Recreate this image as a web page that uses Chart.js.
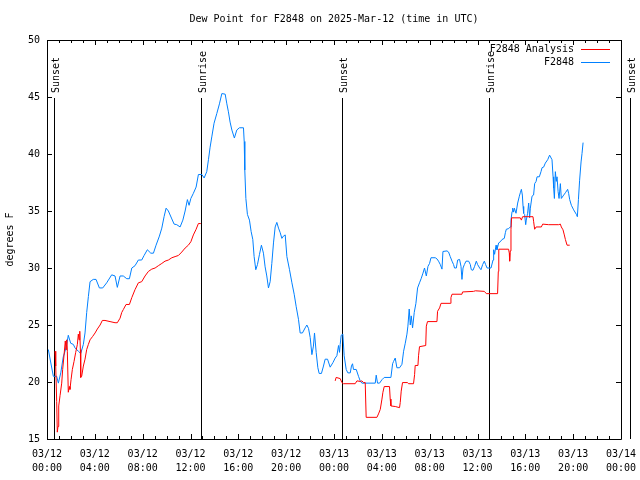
<!DOCTYPE html>
<html>
<head>
<meta charset="utf-8">
<title>Dew Point for F2848</title>
<script src="https://cdn.jsdelivr.net/npm/chart.js@4.4.1/dist/chart.umd.min.js"></script>
<style>
    html, body { margin: 0; padding: 0; background: #fff; }
    #wrap { width: 640px; height: 480px; }
</style>
</head>
<body>
<div id="wrap"><canvas id="dewChart" width="640" height="480"></canvas></div>
<script>
// hours since 03/12 00:00 UTC
const obsHours = [
    0.11, 0.53, 0.81, 0.95, 1.15, 1.36, 1.51, 1.65, 1.78, 1.98, 2.2, 2.34, 2.62, 2.82, 3.04, 3.18, 3.32, 3.46, 3.6, 3.87,
    4.1, 4.38, 4.66, 4.99, 5.41, 5.69, 5.88, 6.11, 6.38, 6.67, 6.89, 7.09, 7.36, 7.64, 7.92, 8.12, 8.39, 8.68, 8.9, 9.12,
    9.4, 9.6, 9.79, 9.96, 10.15, 10.44, 10.63, 10.85, 11.13, 11.36, 11.55, 11.74, 11.88, 12.03, 12.24, 12.47, 12.66, 12.95, 13.14, 13.36,
    13.5, 13.64, 13.78, 13.97, 14.2, 14.42, 14.62, 14.9, 15.04, 15.17, 15.31, 15.46, 15.67, 15.87, 16.09, 16.43, 16.49, 16.54, 16.63, 16.76,
    16.93, 17.07, 17.21, 17.32, 17.46, 17.6, 17.77, 17.93, 18.1, 18.24, 18.38, 18.52, 18.66, 18.8, 18.94, 19.08, 19.22, 19.36, 19.5, 19.64,
    19.77, 19.92, 20.06, 20.28, 20.48, 20.67, 20.84, 21.03, 21.17, 21.36, 21.59, 21.73, 21.87, 22.01, 22.15, 22.28, 22.37, 22.51, 22.65, 22.76,
    22.95, 23.12, 23.26, 23.46, 23.68, 23.91, 24.1, 24.24, 24.38, 24.46, 24.52, 24.6, 24.74, 24.85, 25.02, 25.16, 25.36, 25.46, 25.55, 25.63,
    25.86, 26.05, 26.19, 26.33, 27.45, 27.53, 27.64, 27.81, 28.01, 28.2, 28.76, 28.9, 28.98, 29.12, 29.26, 29.48, 29.68, 29.82, 29.96, 30.1,
    30.18, 30.29, 30.38, 30.46, 30.57, 30.71, 30.85, 30.99, 31.15, 31.3, 31.44, 31.57, 31.72, 31.86, 31.99, 32.11, 32.47, 32.61, 32.74, 32.89,
    33.03, 33.11, 33.45, 33.58, 33.72, 33.87, 34.0, 34.08, 34.23, 34.34, 34.5, 34.62, 34.7, 34.79, 34.9, 35.04, 35.26, 35.4, 35.48, 35.62,
    35.76, 35.9, 36.01, 36.18, 36.29, 36.43, 36.57, 36.68, 36.8, 37.13, 37.3, 37.35, 37.43, 37.55, 37.63, 37.77, 37.91, 38.05, 38.24, 38.33,
    38.41, 38.6, 38.74, 38.8, 38.89, 38.94, 39.02, 39.08, 39.22, 39.36, 39.5, 39.58, 39.67, 39.75, 39.81, 39.86, 39.94, 40.03, 40.08, 40.19,
    40.28, 40.36, 40.42, 40.56, 40.69, 40.78, 40.9, 40.98, 41.17, 41.31, 41.4, 41.53, 41.67, 41.87, 42.03, 42.23, 42.32, 42.37, 42.43, 42.51,
    42.59, 42.65, 42.74, 42.82, 42.93, 43.01, 43.21, 43.35, 43.54, 43.62, 43.71, 43.85, 44.04, 44.27, 44.35, 44.44, 44.54, 44.66, 44.74, 44.83
];
const obsValues = [
    22.85, 20.5, 20.5, 19.9, 20.8, 22.2, 22.7, 23.3, 24.1, 23.4, 23.3, 23.0, 22.7, 22.5, 23.3, 24.3, 26.1, 27.5, 28.8, 29.0,
    29.0, 28.25, 28.25, 28.7, 29.4, 29.3, 28.3, 29.3, 29.3, 29.06, 29.06, 30.0, 30.2, 30.7, 30.7, 31.1, 31.6, 31.3, 31.3, 32.0,
    32.8, 33.5, 34.5, 35.25, 35.0, 34.3, 33.85, 33.8, 33.6, 34.2, 35.0, 36.0, 35.5, 36.1, 36.55, 37.1, 38.2, 38.2, 37.9, 38.45,
    39.5, 40.6, 41.5, 42.7, 43.55, 44.4, 45.3, 45.25, 44.4, 43.7, 42.8, 42.1, 41.4, 42.1, 42.3, 42.3, 41.1, 38.6, 36.1, 34.7,
    34.2, 33.2, 32.5, 31.0, 29.85, 30.3, 31.2, 32.0, 31.3, 30.1, 29.3, 28.25, 28.8, 30.4, 32.2, 33.6, 34.0, 33.5, 33.1, 32.6,
    32.8, 32.9, 31.0, 29.85, 28.7, 27.7, 26.6, 25.5, 24.3, 24.3, 24.75, 25.0, 24.7, 23.9, 22.4, 23.15, 24.3, 22.6, 21.25, 20.75,
    20.75, 21.4, 22.0, 22.0, 21.3, 21.7, 22.1, 22.3, 23.2, 22.6, 23.3, 24.1, 24.2, 22.3, 21.1, 20.8, 20.8, 21.4, 21.6, 21.1,
    21.1, 20.5, 20.1, 19.9, 19.9, 20.6, 19.9, 19.9, 20.2, 20.4, 20.4, 21.6, 21.8, 22.1, 21.25, 21.25, 21.55, 22.7, 23.4, 24.2,
    24.9, 26.4, 25.0, 25.8, 24.75, 26.1, 26.9, 28.25, 28.7, 29.1, 29.55, 30.0, 29.3, 30.15, 30.4, 30.9, 30.9, 30.8, 30.6, 30.3,
    29.9, 31.45, 31.5, 31.4, 31.0, 30.6, 30.3, 30.0, 30.0, 30.7, 30.75, 30.15, 29.0, 30.0, 30.3, 30.6, 30.6, 30.3, 29.85, 29.8,
    30.15, 30.6, 30.3, 30.0, 29.85, 30.3, 30.6, 30.3, 30.0, 30.0, 30.7, 31.6, 31.2, 32.0, 31.6, 32.2, 32.3, 32.5, 32.6, 33.1,
    33.4, 33.45, 33.6, 34.2, 34.95, 35.25, 34.9, 35.25, 34.8, 35.7, 36.3, 36.6, 36.9, 36.4, 35.4, 34.8, 34.7, 33.8, 34.2, 34.8,
    35.7, 34.4, 35.25, 36.3, 36.4, 37.4, 37.6, 38.0, 38.0, 38.45, 38.8, 38.85, 39.2, 39.5, 39.9, 39.5, 38.0, 37.0, 36.1, 38.45,
    37.6, 38.0, 36.7, 36.1, 37.4, 36.1, 36.4, 36.6, 36.9, 36.55, 36.0, 35.5, 35.1, 34.7, 34.5, 36.0, 37.7, 39.3, 40.05, 41.0
];

// analysis series, null marks the gap between the two nights
const anaHours = [
    0.67, 0.73, 0.81, 0.86, 0.92, 0.98, 1.09, 1.23, 1.31, 1.42, 1.53, 1.59, 1.65, 1.7, 1.78, 1.87, 1.92, 2.01, 2.12, 2.26,
    2.4, 2.54, 2.62, 2.68, 2.74, 2.79, 2.82, 2.9, 3.04, 3.18, 3.32, 3.46, 3.6, 3.82, 4.02, 4.21, 4.44, 4.63, 4.85, 5.27,
    5.69, 5.88, 6.11, 6.25, 6.38, 6.61, 6.89, 7.09, 7.36, 7.64, 7.92, 8.2, 8.48, 8.76, 9.04, 9.31, 9.6, 9.87, 10.15, 10.44,
    10.71, 10.99, 11.27, 11.55, 11.82, 12.03, 12.24, 12.47, 12.66, 12.86, 18.0,
    24.1, 24.18, 24.52, 24.66, 24.79, 25.77, 25.92, 26.19, 26.33, 26.47, 26.61, 26.69, 27.59, 27.72, 27.87, 28.01, 28.09, 28.2, 28.64, 28.7,
    28.76, 29.12, 29.48, 29.54, 29.62, 29.73, 30.15, 30.23, 30.65, 30.74, 30.79, 31.02, 31.07, 31.15, 31.67, 31.72, 31.82, 32.61, 32.66, 32.83,
    32.95, 33.72, 33.78, 33.87, 34.7, 34.75, 35.67, 35.82, 36.57, 36.74, 37.68, 37.74, 37.78, 38.6, 38.66, 38.69, 38.74, 38.8, 38.85, 39.58,
    39.67, 39.77, 40.64, 40.69, 40.78, 40.9, 41.34, 41.45, 41.95, 42.79, 42.93, 43.01, 43.15, 43.26, 43.35, 43.49, 43.71
];
const anaValues = [
    22.7, 21.4, 18.3, 15.6, 16.1, 17.9, 18.8, 19.9, 21.1, 22.3, 23.6, 22.85, 23.7, 22.7, 19.1, 19.6, 19.35, 20.2, 21.1, 21.8,
    22.6, 23.3, 24.2, 23.7, 24.45, 22.85, 20.4, 20.5, 21.4, 22.0, 22.85, 23.3, 23.7, 24.0, 24.3, 24.65, 25.0, 25.4, 25.4, 25.3,
    25.2, 25.2, 25.6, 26.1, 26.35, 26.8, 26.8, 27.4, 28.1, 28.7, 28.8, 29.3, 29.7, 29.9, 30.0, 30.2, 30.4, 30.6, 30.7, 30.9,
    31.0, 31.1, 31.4, 31.75, 32.0, 32.3, 32.9, 33.4, 33.9, 33.9, null,
    20.1, 20.4, 20.3, 19.95, 19.85, 19.85, 20.1, 20.05, 20.1, 19.95, 19.95, 16.9, 16.9, 17.2, 17.6, 18.5, 19.1, 19.6, 19.6, 18.5,
    17.9, 17.85, 17.75, 18.2, 19.2, 19.95, 19.95, 19.85, 19.85, 20.65, 21.45, 21.45, 22.3, 23.1, 23.2, 24.9, 25.3, 25.3, 26.2, 26.5,
    26.9, 26.9, 27.4, 27.7, 27.7, 27.9, 27.95, 28.0, 27.95, 27.75, 27.75, 29.7, 31.65, 31.65, 31.3, 30.6, 31.5, 33.4, 34.4, 34.4,
    34.2, 34.5, 34.5, 34.1, 33.4, 33.6, 33.6, 33.85, 33.8, 33.8, 33.85, 33.6, 33.35, 32.9, 32.5, 32.0, 32.0
];

const sunHours = [0.61, 12.89, 24.71, 36.93, 48.73];
const sunLabels = ["Sunset", "Sunrise", "Sunset", "Sunrise", "Sunset"];

const xTickLabels = [
    ["03/12", "00:00"], ["03/12", "04:00"], ["03/12", "08:00"], ["03/12", "12:00"], ["03/12", "16:00"],
    ["03/12", "20:00"], ["03/13", "00:00"], ["03/13", "04:00"], ["03/13", "08:00"], ["03/13", "12:00"],
    ["03/13", "16:00"], ["03/13", "20:00"], ["03/14", "00:00"]
];
const yTickValues = [15, 20, 25, 30, 35, 40, 45, 50];

const MONO = "'DejaVu Sans Mono', 'Liberation Mono', monospace";
const ANA_COLOR = "#ff0000";
const OBS_COLOR = "#0080ff";

const toPoints = (hours, values) => hours.map((h, i) => ({ x: h, y: values[i] }));

// gnuplot style frame: border box, inward ticks on all four sides
const framePlugin = {
    id: "frame",
    afterDraw(chart) {
        const { ctx, chartArea: a, scales } = chart;
        const xs = scales.x, ys = scales.y;
        ctx.save();
        ctx.strokeStyle = "#000";
        ctx.lineWidth = 1;
        ctx.beginPath();
        ctx.rect(Math.round(a.left) + 0.5, Math.round(a.top) + 0.5,
                 Math.round(a.right - a.left), Math.round(a.bottom - a.top));
        // x ticks every hour, longer every 4 hours
        for (let h = 0; h <= 48; h++) {
            const px = Math.round(xs.getPixelForValue(h)) + 0.5;
            const len = h % 4 === 0 ? 5 : 3;
            ctx.moveTo(px, a.bottom); ctx.lineTo(px, a.bottom - len);
            ctx.moveTo(px, a.top); ctx.lineTo(px, a.top + len);
        }
        yTickValues.forEach(v => {
            const py = Math.round(ys.getPixelForValue(v)) + 0.5;
            ctx.moveTo(a.left, py); ctx.lineTo(a.left + 5, py);
            ctx.moveTo(a.right, py); ctx.lineTo(a.right - 5, py);
        });
        ctx.stroke();

        // key, top right inside the plot
        ctx.font = "10px " + MONO;
        ctx.fillStyle = "#000";
        ctx.textAlign = "right";
        ctx.textBaseline = "middle";
        chart.data.datasets.forEach((ds, i) => {
            const y = a.top + 9 + i * 13;
            ctx.fillText(ds.label, a.right - 47, y);
            ctx.strokeStyle = ds.borderColor;
            ctx.beginPath();
            ctx.moveTo(a.right - 40, Math.round(y) + 0.5);
            ctx.lineTo(a.right - 11, Math.round(y) + 0.5);
            ctx.stroke();
        });
        ctx.restore();
    }
};

// sunrise / sunset markers
const sunPlugin = {
    id: "sunLines",
    beforeDatasetsDraw(chart) {
        const { ctx, chartArea: a, scales } = chart;
        ctx.save();
        ctx.strokeStyle = "#000";
        ctx.fillStyle = "#000";
        ctx.lineWidth = 1;
        ctx.font = "10px " + MONO;
        sunHours.forEach((h, i) => {
            const px = Math.round(scales.x.getPixelForValue(h)) + 0.5;
            ctx.beginPath();
            ctx.moveTo(px, a.top + 58);
            ctx.lineTo(px, a.bottom);
            ctx.stroke();
            ctx.save();
            ctx.translate(px + 2, a.top + 53);
            ctx.rotate(-Math.PI / 2);
            ctx.textAlign = "left";
            ctx.textBaseline = "middle";
            ctx.fillText(sunLabels[i], 0, 0);
            ctx.restore();
        });
        ctx.restore();
    }
};

new Chart(document.getElementById("dewChart"), {
    type: "line",
    data: {
        datasets: [
            {
                label: "F2848 Analysis",
                data: toPoints(anaHours, anaValues),
                borderColor: ANA_COLOR,
                borderWidth: 1,
                pointRadius: 0,
                tension: 0,
                spanGaps: false,
                fill: false
            },
            {
                label: "F2848",
                data: toPoints(obsHours, obsValues),
                borderColor: OBS_COLOR,
                borderWidth: 1,
                pointRadius: 0,
                tension: 0,
                fill: false
            }
        ]
    },
    options: {
        responsive: false,
        animation: false,
        events: [],
        layout: { padding: { left: 0, right: 19, top: 0, bottom: 0 } },
        plugins: {
            legend: { display: false },
            tooltip: { enabled: false },
            title: {
                display: true,
                fullSize: false,
                text: "Dew Point for F2848 on 2025-Mar-12 (time in UTC)",
                color: "#000",
                font: { family: MONO, size: 10, weight: "normal", lineHeight: 1.2 },
                padding: { top: 13, bottom: 15 }
            }
        },
        scales: {
            x: {
                type: "linear",
                min: 0,
                max: 48,
                grid: { display: false, drawTicks: false },
                border: { display: false },
                ticks: {
                    stepSize: 4,
                    autoSkip: false,
                    maxRotation: 0,
                    padding: 8,
                    color: "#000",
                    font: { family: MONO, size: 10, lineHeight: 1.4 },
                    callback: (value, index) => xTickLabels[index]
                },
                afterFit: scale => {
                    scale.height = 41;
                    // let the end labels hang over the frame like gnuplot does
                    scale.paddingLeft = 0;
                    scale.paddingRight = 0;
                }
            },
            y: {
                min: 15,
                max: 50,
                grid: { display: false, drawTicks: false },
                border: { display: false },
                ticks: {
                    stepSize: 5,
                    padding: 7,
                    color: "#000",
                    font: { family: MONO, size: 10 }
                },
                title: {
                    display: true,
                    text: "degrees F",
                    color: "#000",
                    font: { family: MONO, size: 10, lineHeight: 1.2 },
                    padding: { top: 4, bottom: 0 }
                },
                afterFit: scale => { scale.width = 47; }
            }
        }
    },
    plugins: [sunPlugin, framePlugin]
});
</script>
</body>
</html>
